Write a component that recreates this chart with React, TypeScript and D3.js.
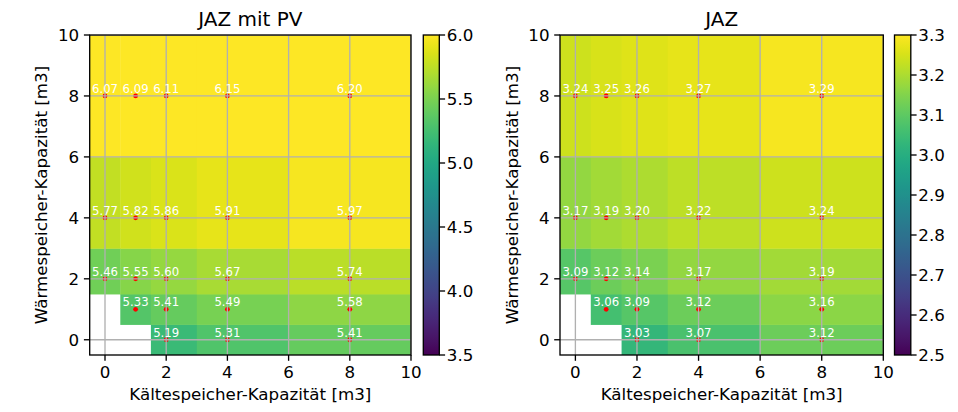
import React from "react";
import * as d3 from "d3";

// Data grid (cell centres)
const kaelteKap = [0, 1, 2, 4, 8]; // x: Kältespeicher-Kapazität [m3]
const waermeKap = [0, 1, 2, 4, 8]; // y: Wärmespeicher-Kapazität [m3]

// rows: waermeKap index (0,1,2,4,8), columns: kaelteKap index
const jazMitPV: (number | null)[][] = [
  [null, null, 5.19, 5.31, 5.41],
  [null, 5.33, 5.41, 5.49, 5.58],
  [5.46, 5.55, 5.6, 5.67, 5.74],
  [5.77, 5.82, 5.86, 5.91, 5.97],
  [6.07, 6.09, 6.11, 6.15, 6.2],
];
const jazOhnePV: (number | null)[][] = [
  [null, null, 3.03, 3.07, 3.12],
  [null, 3.06, 3.09, 3.12, 3.16],
  [3.09, 3.12, 3.14, 3.17, 3.19],
  [3.17, 3.19, 3.2, 3.22, 3.24],
  [3.24, 3.25, 3.26, 3.27, 3.29],
];

const axisTicks = [0, 2, 4, 6, 8, 10];
const cbTicksPV = [3.5, 4.0, 4.5, 5.0, 5.5, 6.0];
const cbTicksJAZ = [2.5, 2.6, 2.7, 2.8, 2.9, 3.0, 3.1, 3.2, 3.3];
const domainPV: [number, number] = [3.5, 6.0];
const domainJAZ: [number, number] = [2.5, 3.3];

const FONT = "'DejaVu Sans', sans-serif";
const FS = 16.7; // 10pt @120dpi
const TL = 5.8; // tick length
const LW = 1.33;

// pcolormesh "nearest" shading edges
function nearestEdges(c: number[]): number[] {
  const e: number[] = [c[0] - (c[1] - c[0]) / 2];
  for (let i = 0; i < c.length - 1; i++) e.push((c[i] + c[i + 1]) / 2);
  e.push(c[c.length - 1] + (c[c.length - 1] - c[c.length - 2]) / 2);
  return e;
}

interface PanelProps {
  id: string;
  left: number;
  right: number;
  top: number;
  bottom: number;
  cbLeft: number;
  cbRight: number;
  title: string;
  data: (number | null)[][];
  domain: [number, number];
  cbTicks: number[];
  cbFmt: (v: number) => string;
}

function Panel(p: PanelProps) {
  const xe = nearestEdges(kaelteKap);
  const ye = nearestEdges(waermeKap);
  const x = d3.scaleLinear().domain([xe[0], xe[xe.length - 1]]).range([p.left, p.right]);
  const y = d3.scaleLinear().domain([ye[0], ye[ye.length - 1]]).range([p.bottom, p.top]);
  const norm = d3.scaleLinear().domain(p.domain).range([0, 1]).clamp(true);
  const color = (v: number) => d3.interpolateViridis(norm(v));
  const cbY = d3.scaleLinear().domain(p.domain).range([p.bottom, p.top]);
  const stops = d3.range(0, 1.0001, 0.02);
  const cx = (p.left + p.right) / 2;
  const cy = (p.top + p.bottom) / 2;

  const cells: React.ReactNode[] = [];
  const dots: React.ReactNode[] = [];
  const labels: React.ReactNode[] = [];
  p.data.forEach((row, j) =>
    row.forEach((v, i) => {
      if (v === null) return;
      const x0 = x(xe[i]), x1 = x(xe[i + 1]);
      const y0 = y(ye[j + 1]), y1 = y(ye[j]);
      cells.push(
        <rect key={`c${i}-${j}`} x={x0} y={y0} width={x1 - x0 + 0.4} height={y1 - y0 + 0.4} fill={color(v)} />
      );
      dots.push(<circle key={`d${i}-${j}`} cx={x(kaelteKap[i])} cy={y(waermeKap[j])} r={2.4} fill="red" />);
      labels.push(
        <text key={`t${i}-${j}`} x={x(kaelteKap[i])} y={y(waermeKap[j]) - 3.2} fill="white" fontSize={11.7} textAnchor="middle">
          {v.toFixed(2)}
        </text>
      );
    })
  );

  return (
    <g fontFamily={FONT}>
      <defs>
        <linearGradient id={p.id} x1="0" y1="1" x2="0" y2="0">
          {stops.map((t) => (
            <stop key={t} offset={t} stopColor={d3.interpolateViridis(t)} />
          ))}
        </linearGradient>
        <clipPath id={p.id + "clip"}>
          <rect x={p.left} y={p.top} width={p.right - p.left} height={p.bottom - p.top} />
        </clipPath>
      </defs>
      <g clipPath={`url(#${p.id}clip)`}>
        {cells}
        {dots}
        {axisTicks.map((t) => (
          <line key={"gx" + t} x1={x(t)} x2={x(t)} y1={p.top} y2={p.bottom} stroke="#b0b0b0" strokeWidth={LW} />
        ))}
        {axisTicks.map((t) => (
          <line key={"gy" + t} x1={p.left} x2={p.right} y1={y(t)} y2={y(t)} stroke="#b0b0b0" strokeWidth={LW} />
        ))}
        {labels}
      </g>
      <rect x={p.left} y={p.top} width={p.right - p.left} height={p.bottom - p.top} fill="none" stroke="black" strokeWidth={LW} />
      {axisTicks.map((t) => (
        <g key={"tx" + t}>
          <line x1={x(t)} x2={x(t)} y1={p.bottom} y2={p.bottom + TL} stroke="black" strokeWidth={LW} />
          <text x={x(t)} y={p.bottom + 23} fontSize={FS} textAnchor="middle">{t}</text>
        </g>
      ))}
      {axisTicks.map((t) => (
        <g key={"ty" + t}>
          <line x1={p.left - TL} x2={p.left} y1={y(t)} y2={y(t)} stroke="black" strokeWidth={LW} />
          <text x={p.left - 10.5} y={y(t)} dy="0.36em" fontSize={FS} textAnchor="end">{t}</text>
        </g>
      ))}
      <text x={cx} y={p.top - 9} fontSize={20} textAnchor="middle">{p.title}</text>
      <text x={cx} y={p.bottom + 44.5} fontSize={FS} textAnchor="middle">Kältespeicher-Kapazität [m3]</text>
      <text transform={`translate(${p.left - 42.5},${cy}) rotate(-90)`} fontSize={FS} textAnchor="middle">
        Wärmespeicher-Kapazität [m3]
      </text>
      {/* colorbar */}
      <rect x={p.cbLeft} y={p.top} width={p.cbRight - p.cbLeft} height={p.bottom - p.top} fill={`url(#${p.id})`} />
      <rect x={p.cbLeft} y={p.top} width={p.cbRight - p.cbLeft} height={p.bottom - p.top} fill="none" stroke="black" strokeWidth={LW} />
      {p.cbTicks.map((t) => (
        <g key={"cb" + t}>
          <line x1={p.cbRight} x2={p.cbRight + TL} y1={cbY(t)} y2={cbY(t)} stroke="black" strokeWidth={LW} />
          <text x={p.cbRight + 7.5} y={cbY(t)} dy="0.36em" fontSize={FS}>{p.cbFmt(t)}</text>
        </g>
      ))}
    </g>
  );
}

export default function App() {
  const fmt1 = d3.format(".1f");
  return (
    <svg width={958} height={412} style={{ position: "absolute", left: 0, top: 0, background: "white" }}>
      <rect width={958} height={412} fill="white" />
      <Panel id="pv" left={89.7} right={411} top={35} bottom={355} cbLeft={423.3} cbRight={439.3}
        title="JAZ mit PV" data={jazMitPV} domain={domainPV} cbTicks={cbTicksPV} cbFmt={fmt1} />
      <Panel id="jaz" left={560} right={883.3} top={35} bottom={355} cbLeft={894.5} cbRight={910.8}
        title="JAZ" data={jazOhnePV} domain={domainJAZ} cbTicks={cbTicksJAZ} cbFmt={fmt1} />
    </svg>
  );
}
